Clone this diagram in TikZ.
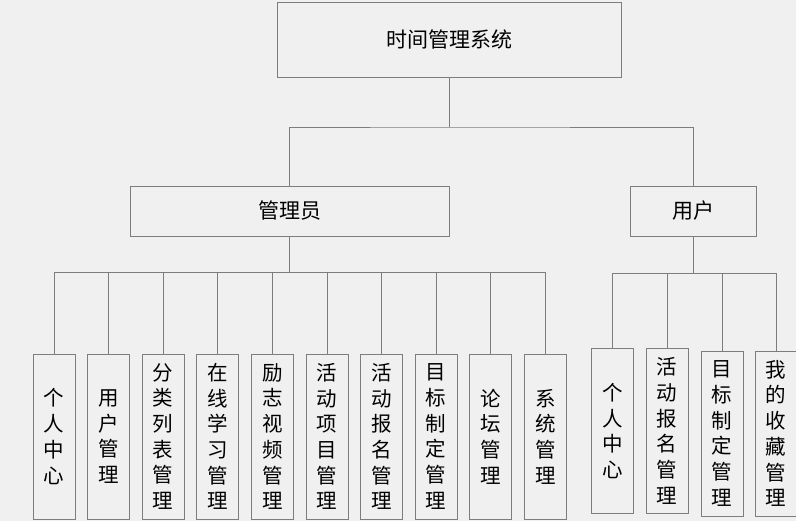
\documentclass[tikz,border=0pt]{standalone}
\usepackage{xcolor}
\usepackage{tikz}
\usepackage{fontspec}
\setmainfont{Noto Sans CJK SC}

\definecolor{bggray}{RGB}{240,240,240}
\definecolor{linegray}{RGB}{125,125,125}

\tikzset{
  box/.style={draw=linegray,fill=bggray,line width=0.8pt,inner sep=0pt,
    font=\fontsize{21pt}{25.7pt}\selectfont},
  topbox/.style={box,minimum width=#1,minimum height=50pt},
  colbox/.style={box,minimum width=42pt,minimum height=165pt,align=center,text width=42pt,
    font=\fontsize{20.5pt}{25.7pt}\selectfont},
  link/.style={draw=linegray,line width=0.8pt}
}

\begin{document}
\begin{tikzpicture}[x=1pt,y=-1pt]
    \fill[bggray] (0,0) rectangle (796,521);
    \useasboundingbox (0,0) rectangle (796,521);

    % Nodes
    \node[box,minimum width=344pt,minimum height=75pt] (root) at (449,39.5) {时间管理系统};
    \node[topbox=319pt] (admin) at (289.5,211) {管理员};
    \node[topbox=126pt] (user) at (693,211) {用户};

    % Admin modules
    \node[colbox] (a1) at (54,436.5) {个\\人\\中\\心};
    \node[colbox] (a2) at (108.6,436.5) {用\\户\\管\\理};
    \node[colbox] (a3) at (163.2,436.5) {分\\类\\列\\表\\管\\理};
    \node[colbox] (a4) at (217.8,436.5) {在\\线\\学\\习\\管\\理};
    \node[colbox] (a5) at (272.4,436.5) {励\\志\\视\\频\\管\\理};
    \node[colbox] (a6) at (327,436.5) {活\\动\\项\\目\\管\\理};
    \node[colbox] (a7) at (381.6,436.5) {活\\动\\报\\名\\管\\理};
    \node[colbox] (a8) at (436.2,436.5) {目\\标\\制\\定\\管\\理};
    \node[colbox] (a9) at (490.8,436.5) {论\\坛\\管\\理};
    \node[colbox] (a10) at (545.4,436.5) {系\\统\\管\\理};

    % User modules
    \node[colbox] (u1) at (612.5,431) {个\\人\\中\\心};
    \node[colbox] (u2) at (667,431) {活\\动\\报\\名\\管\\理};
    \node[colbox] (u3) at (722,433.5) {目\\标\\制\\定\\管\\理};
    \node[colbox] (u4) at (776,433.5) {我\\的\\收\\藏\\管\\理};

    % Junctions
    \coordinate (r0) at (449,127);
    \coordinate (a0) at (289.5,272);
    \coordinate (u0) at (693,273);

    % Connectors
    \draw[link] (root.south) -- (r0);
    \draw[link] (admin.north) |- (r0) -| (user.north);

    \draw[link] (admin.south) -- (a0);
    \draw[link] (a0) -| (a1.north);
    \draw[link] (a0) -| (a2.north);
    \draw[link] (a0) -| (a3.north);
    \draw[link] (a0) -| (a4.north);
    \draw[link] (a0) -| (a5.north);
    \draw[link] (a0) -| (a6.north);
    \draw[link] (a0) -| (a7.north);
    \draw[link] (a0) -| (a8.north);
    \draw[link] (a0) -| (a9.north);
    \draw[link] (a0) -| (a10.north);

    \draw[link] (user.south) -- (u0);
    \draw[link] (u0) -| (u1.north);
    \draw[link] (u0) -| (u2.north);
    \draw[link] (u0) -| (u3.north);
    \draw[link] (u0) -| (u4.north);
\end{tikzpicture}
\end{document}
